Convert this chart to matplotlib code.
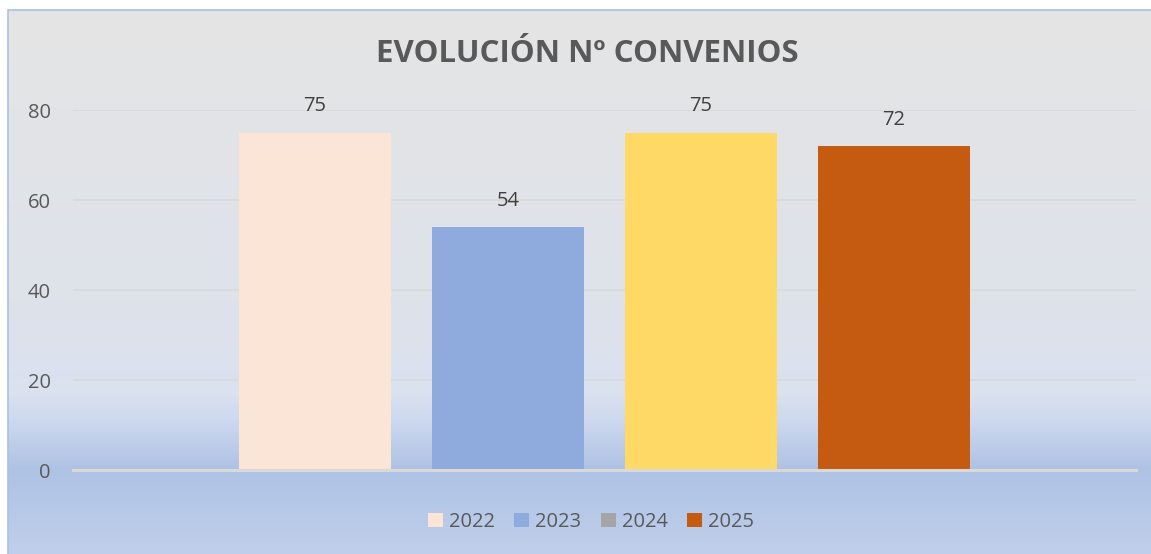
import numpy as np
import matplotlib
matplotlib.use("Agg")
import matplotlib.pyplot as plt
from matplotlib.patches import Patch, Rectangle

# ---- data ----
title = "EVOLUCIÓN Nº CONVENIOS"
series = ["2022", "2023", "2024", "2025"]
values = [75, 54, 75, 72]
bar_colors = ["#FBE5D6", "#8FAADC", "#FFD966", "#C55A11"]
legend_colors = ["#FBE5D6", "#8FAADC", "#A5A5A5", "#C55A11"]
yticks = [0, 20, 40, 60, 80]

plt.rcParams['font.family'] = ['Open Sans', 'DejaVu Sans']

W, H = 1151, 554
fig = plt.figure(figsize=(W / 100, H / 100), dpi=100)
fig.patch.set_facecolor("white")

# ---- gradient background of chart area ----
bg = fig.add_axes([8 / W, 0, 1 - 8 / W, 1 - 10 / H], zorder=-10)
ys = np.linspace(10, 554, 600)
stops_y = [10, 300, 395, 420, 470, 554]
stops_c = np.array([
    [229, 229, 229],
    [222, 226, 234],
    [218, 225, 240],
    [205, 217, 238],
    [174, 194, 228],
    [192, 208, 236],
]) / 255.0
grad = np.stack([np.interp(ys, stops_y, stops_c[:, k]) for k in range(3)], axis=-1)
bg.imshow(grad[:, None, :], aspect="auto", extent=[0, 1, 0, 1], interpolation="bilinear")
bg.set_xlim(0, 1)
bg.set_ylim(0, 1)
bg.axis("off")
fig.patches.append(Rectangle((8 / W, -0.01), 1.0, 1 - 10 / H + 0.01,
                             transform=fig.transFigure, fill=False,
                             edgecolor="#A9C0E6", lw=1.2, zorder=5))

# ---- main axes ----
ax = fig.add_axes([73 / W, 1 - 470 / H, (1136 - 73) / W, (470 - 110) / H])
ax.set_facecolor("none")
x = np.arange(len(values))
ax.bar(x, values, width=0.79, color=bar_colors, zorder=3)
for xi, v in zip(x, values):
    ax.annotate(str(v), (xi, v), xytext=(0, 19), textcoords="offset points",
                ha="center", va="center", fontsize=14.5, color="#404040")

ax.set_xlim(-1.254, 4.254)
ax.set_ylim(0, 80)
ax.set_yticks(yticks)
ax.set_xticks([])
ax.tick_params(axis="y", length=0, pad=16, labelsize=14.5, labelcolor="#595959")
ax.yaxis.grid(True, color="#D9D9D9", lw=1.2, zorder=0)
ax.axhline(0, color="#D9D9D9", lw=2.2, zorder=4, clip_on=False)
for s in ax.spines.values():
    s.set_visible(False)

fig.text(587 / W, 1 - 54 / H, title, ha="center", va="center",
         fontsize=22.5, fontweight="bold", color="#595959")

handles = [Patch(facecolor=c, edgecolor="none") for c in legend_colors]
fig.legend(handles, series, loc="center", bbox_to_anchor=(591 / W, 1 - 522 / H),
           ncol=4, frameon=False, fontsize=14.5, labelcolor="#595959",
           handlelength=0.75, handleheight=0.75, handletextpad=0.3, columnspacing=0.95)

fig.savefig("out.png", dpi=100)
